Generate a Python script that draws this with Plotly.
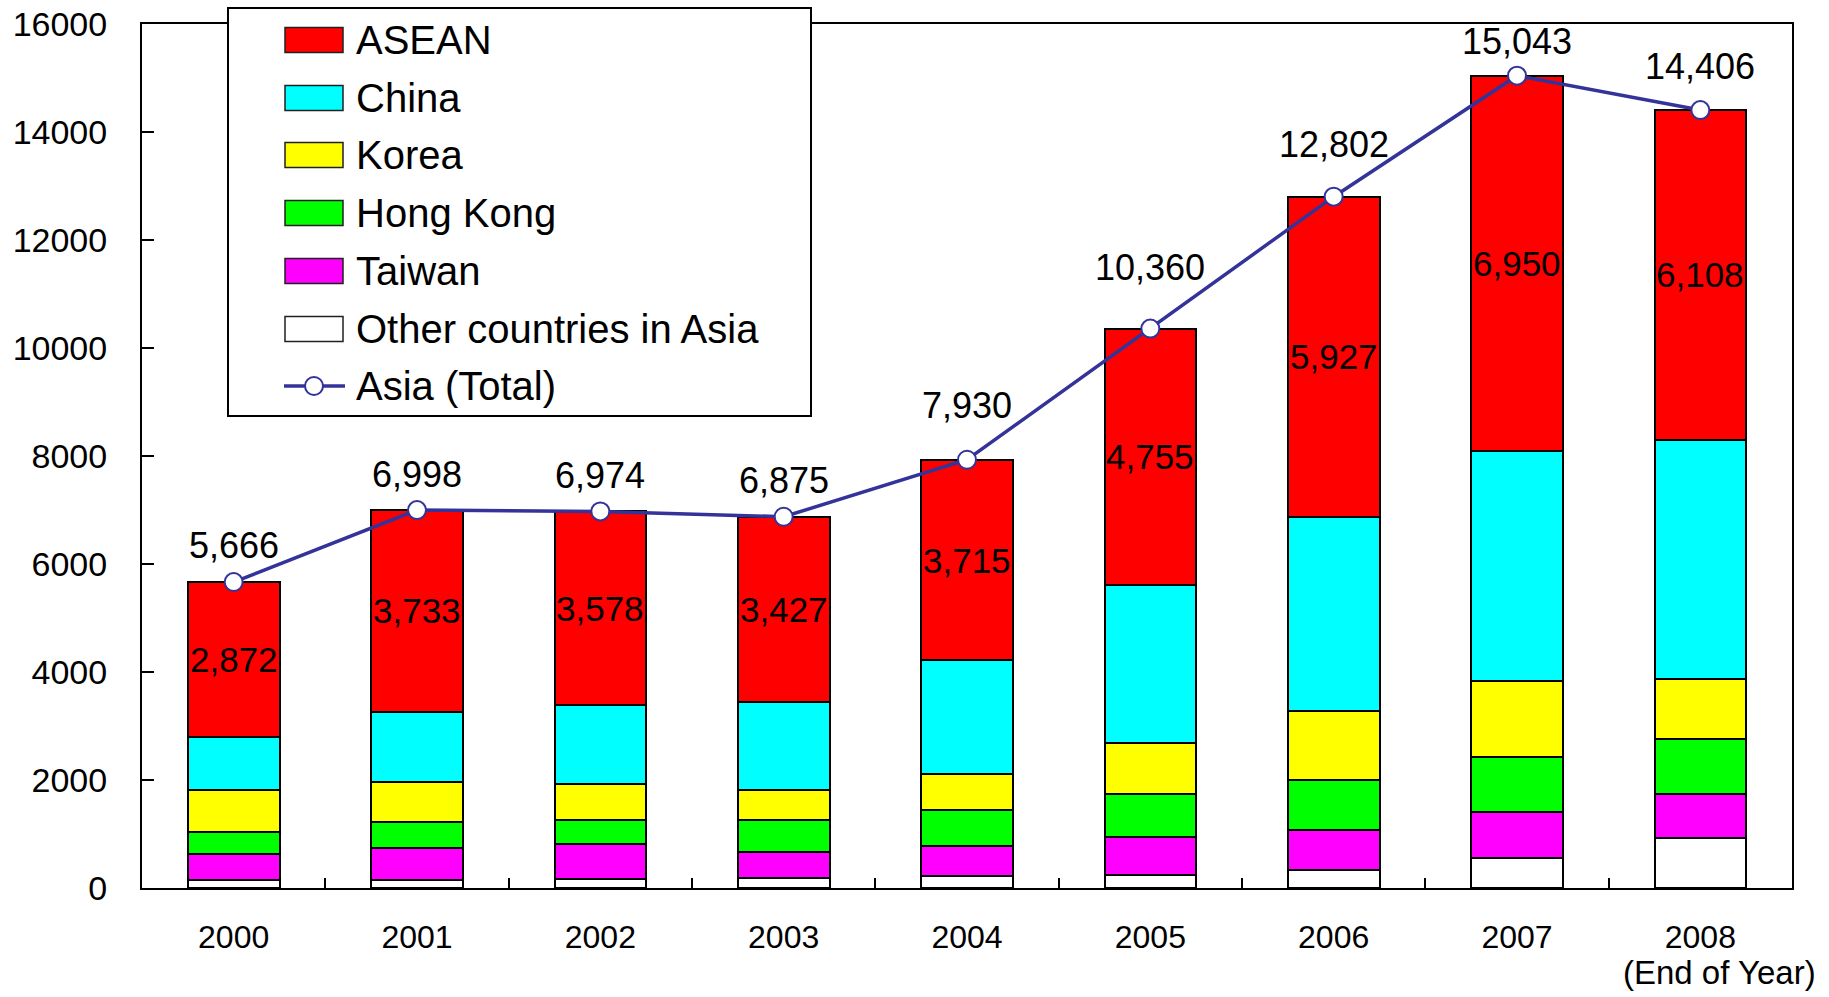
import plotly.graph_objects as go

# ---------------- data ----------------
years = ["2000", "2001", "2002", "2003", "2004", "2005", "2006", "2007", "2008"]
other = [147, 147, 174, 181, 214, 248, 335, 549, 917]
taiwan = [482, 589, 636, 482, 562, 702, 736, 857, 817]
hong_kong = [408, 482, 442, 589, 663, 784, 924, 1024, 1024]
korea = [770, 736, 669, 562, 663, 957, 1291, 1412, 1111]
china = [987, 1311, 1475, 1634, 2113, 2914, 3589, 4251, 4429]
asean = [2872, 3733, 3578, 3427, 3715, 4755, 5927, 6950, 6108]
asia_total = [5666, 6998, 6974, 6875, 7930, 10360, 12802, 15043, 14406]

y_ticks = [0, 2000, 4000, 6000, 8000, 10000, 12000, 14000, 16000]

# ---------------- style ----------------
FONT = "Arial, Liberation Sans, sans-serif"
LINE_COLOR = "#333399"
series = [
    ("Other countries in Asia", other, "#FFFFFF"),
    ("Taiwan", taiwan, "#FF00FF"),
    ("Hong Kong", hong_kong, "#00FF00"),
    ("Korea", korea, "#FFFF00"),
    ("China", china, "#00FFFF"),
    ("ASEAN", asean, "#FF0000"),
]
total_label_shift = [37, 36, 36, 36, 54, 61, 52, 34, 44]

W, H = 1829, 997
PL, PR, PT, PB = 142, 1792, 24, 888  # plot area in page pixels


def px_x(px):
    return (px - PL) / (PR - PL)


def px_y(py):
    return (PB - py) / (PB - PT)


fig = go.Figure()

for name, vals, col in series:
    fig.add_trace(go.Bar(
        x=years, y=vals, name=name,
        marker=dict(color=col, line=dict(color="black", width=2)),
        showlegend=False, hoverinfo="y+name",
    ))

fig.add_trace(go.Scatter(
    x=years, y=asia_total, mode="lines+markers", name="Asia (Total)",
    line=dict(color=LINE_COLOR, width=3.5),
    marker=dict(size=18, color="white", line=dict(color=LINE_COLOR, width=2)),
    showlegend=False,
))

annotations = []
# ASEAN value labels centred in the red segments
for i, yr in enumerate(years):
    base = other[i] + taiwan[i] + hong_kong[i] + korea[i] + china[i]
    annotations.append(dict(
        x=i, y=base + asean[i] / 2, xref="x", yref="y",
        text=f"{asean[i]:,}", showarrow=False,
        font=dict(family=FONT, size=35, color="black"),
    ))
# total labels above markers
for i, yr in enumerate(years):
    annotations.append(dict(
        x=i, y=asia_total[i], xref="x", yref="y",
        text=f"{asia_total[i]:,}", showarrow=False, yshift=total_label_shift[i],
        font=dict(family=FONT, size=36, color="black"),
    ))
# (End of Year)
annotations.append(dict(
    x=px_x(1818), y=px_y(972), xref="paper", yref="paper",
    text="(End of Year)", showarrow=False, xanchor="right", yanchor="middle",
    font=dict(family=FONT, size=33, color="black"),
))

# ---------------- custom legend ----------------
shapes = []
shapes.append(dict(
    type="rect", xref="paper", yref="paper",
    x0=px_x(228), x1=px_x(811), y0=px_y(416), y1=px_y(8),
    fillcolor="white", line=dict(color="black", width=2), layer="above",
))
legend_items = [
    ("ASEAN", "#FF0000"),
    ("China", "#00FFFF"),
    ("Korea", "#FFFF00"),
    ("Hong Kong", "#00FF00"),
    ("Taiwan", "#FF00FF"),
    ("Other countries in Asia", "#FFFFFF"),
]
row_y = [40, 98, 155, 213, 271, 329, 386]
for (name, col), ry in zip(legend_items, row_y):
    shapes.append(dict(
        type="rect", xref="paper", yref="paper",
        x0=px_x(285), x1=px_x(343), y0=px_y(ry + 12.5), y1=px_y(ry - 12.5),
        fillcolor=col, line=dict(color="#202020", width=1.5), layer="above",
    ))
    annotations.append(dict(
        x=px_x(354), y=px_y(ry), xref="paper", yref="paper",
        text=name, showarrow=False, xanchor="left", yanchor="middle",
        font=dict(family=FONT, size=40, color="black"),
    ))
ry = row_y[-1]
shapes.append(dict(
    type="line", xref="paper", yref="paper",
    x0=px_x(284), x1=px_x(345), y0=px_y(ry), y1=px_y(ry),
    line=dict(color=LINE_COLOR, width=3.5), layer="above",
))
shapes.append(dict(
    type="circle", xref="paper", yref="paper",
    x0=px_x(305), x1=px_x(323), y0=px_y(ry + 9), y1=px_y(ry - 9),
    fillcolor="white", line=dict(color=LINE_COLOR, width=2), layer="above",
))
annotations.append(dict(
    x=px_x(354), y=px_y(ry), xref="paper", yref="paper",
    text="Asia (Total)", showarrow=False, xanchor="left", yanchor="middle",
    font=dict(family=FONT, size=40, color="black"),
))

fig.update_layout(
    width=W, height=H,
    margin=dict(l=PL, r=W - PR, t=PT, b=H - PB, autoexpand=False),
    barmode="stack", bargap=0.5,
    plot_bgcolor="white", paper_bgcolor="white",
    font=dict(family=FONT, color="black"),
    showlegend=False,
    annotations=annotations, shapes=shapes,
)
fig.update_xaxes(
    type="category", range=[-0.5, 8.5],
    showline=True, linecolor="black", linewidth=2, mirror=True,
    ticks="inside", tickson="boundaries", ticklen=10, tickwidth=1.5, tickcolor="black",
    tickfont=dict(family=FONT, size=32, color="black"),
    ticklabelstandoff=20, showgrid=False,
)
fig.update_yaxes(
    range=[0, 16000], tickvals=y_ticks, ticktext=[str(v) for v in y_ticks],
    showline=True, linecolor="black", linewidth=2, mirror=True,
    ticks="inside", ticklen=12, tickwidth=1.5, tickcolor="black",
    tickfont=dict(family=FONT, size=34, color="black"),
    ticklabelstandoff=26, ticklabeloverflow="allow",
    showgrid=False, zeroline=False,
)

fig.write_html(
    "out.html",
    config={"displayModeBar": False},
    post_script="document.body.style.margin='0px';document.body.style.overflow='hidden';",
)
